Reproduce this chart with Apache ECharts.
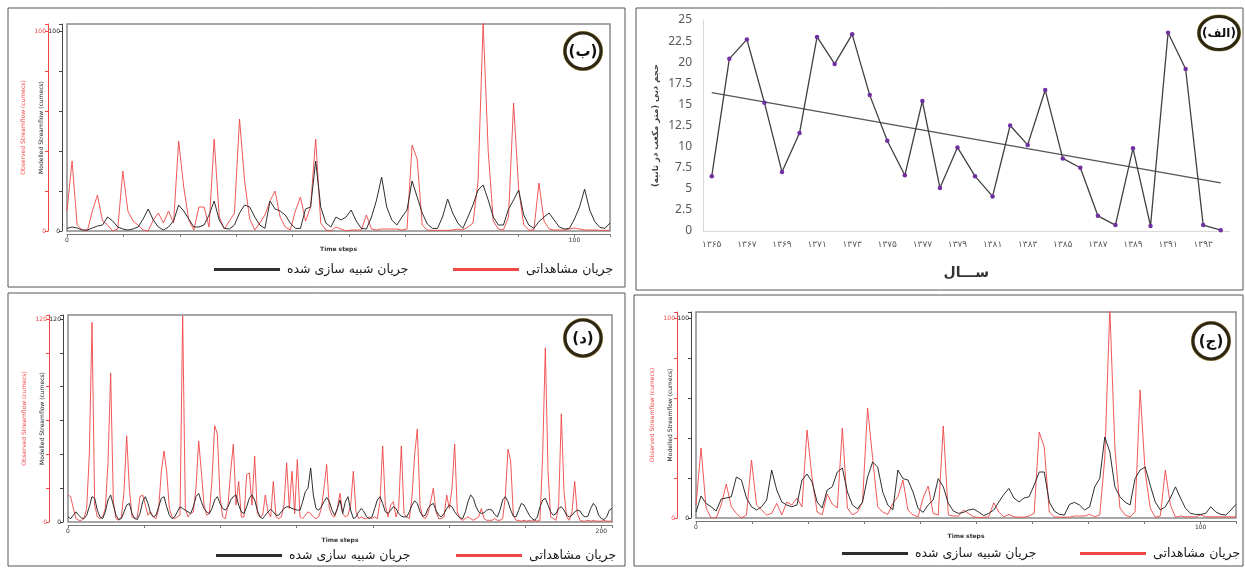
<!DOCTYPE html>
<html>
<head>
<meta charset="utf-8">
<script src="https://cdn.jsdelivr.net/npm/echarts@6/dist/echarts.min.js"></script>
<style>
html, body { margin: 0; padding: 0; background: #fff; }
#main { width: 1245px; height: 568px; }
</style>
</head>
<body>
<div id="main"></div>
<script>
// (الف) annual discharge
var years = ['۱۳۶۵', '۱۳۶۶', '۱۳۶۷', '۱۳۶۸', '۱۳۶۹', '۱۳۷۰', '۱۳۷۱', '۱۳۷۲', '۱۳۷۳', '۱۳۷۴',
  '۱۳۷۵', '۱۳۷۶', '۱۳۷۷', '۱۳۷۸', '۱۳۷۹', '۱۳۸۰', '۱۳۸۱', '۱۳۸۲', '۱۳۸۳', '۱۳۸۴',
  '۱۳۸۵', '۱۳۸۶', '۱۳۸۷', '۱۳۸۸', '۱۳۸۹', '۱۳۹۰', '۱۳۹۱', '۱۳۹۲', '۱۳۹۳', '۱۳۹۴'];
var annualFlow = [6.5, 20.4, 22.7, 15.2, 7.0, 11.6, 23.0, 19.8, 23.3, 16.1,
  10.7, 6.6, 15.4, 5.1, 9.9, 6.5, 4.1, 12.5, 10.2, 16.7,
  8.6, 7.5, 1.8, 0.7, 9.8, 0.6, 23.5, 19.2, 0.7, 0.1];
var trendEnds = [16.4, 5.7];

// (ب) observed / modelled
var obsB = [10, 35, 3, 0.5, 0, 10, 18, 5, 3, 0,
  1, 30, 10, 5, 3, 0.5, 0, 5.5, 9, 4,
  10, 4, 45, 22, 5.5, 0.5, 12, 12, 2, 46,
  7, 1, 5, 9, 56, 25, 6, 0.5, 4, 8,
  15, 20, 7, 2, 0.5, 10, 17, 5, 12, 46,
  4, 0.5, 0, 2, 1, 0, 0.5, 0.5, 0.5, 8,
  1, 0.5, 1, 1, 1, 1, 0.5, 1, 43, 36,
  3, 0.5, 0.3, 0.3, 0.3, 0.3, 0.5, 1, 0.5, 2,
  4, 25, 104, 40, 5, 1, 0.5, 7, 64, 21,
  3, 0.5, 0.5, 24, 5, 1, 0.5, 0.5, 0.5, 1,
  1.5, 1, 0.5, 0.5, 0.5, 0.3, 0.3, 0.3];
var simB = [1.3, 2, 1.5, 0.5, 0.5, 1.5, 2.5, 3, 7, 5,
  2, 1, 0.5, 1, 2, 6, 11, 5.5, 2, 0.5,
  2, 5, 13, 10, 6, 2, 2, 3, 8, 15,
  5.5, 1.3, 1, 3, 9, 13, 12, 7, 3, 1.3,
  15, 11, 10, 8, 4, 1.3, 1.3, 11, 12, 35,
  12, 4, 2, 7, 5.5, 7, 10.5, 5, 1.3, 1,
  7, 15.5, 27, 12, 5.5, 3, 7, 10.5, 25, 17,
  9, 3.5, 1.3, 1.3, 7, 16, 9, 4, 1.3, 7,
  13, 20.5, 23, 15.5, 7, 3, 3, 11, 15.5, 20.5,
  8, 3, 1.3, 4.7, 7, 9, 5.5, 2, 1, 1.3,
  6, 12, 21, 10.5, 4.7, 1.8, 1.3, 4];

// (ج) observed / modelled
var obsJ = [6.5, 35, 5, 0, 0, 6.5, 17, 5.6, 2.3, 0,
  1.5, 29, 6.5, 4, 1.5, 2.3, 7.3, 1.5, 8, 6.5,
  10, 5.6, 44, 20, 3, 1.5, 12, 7, 5, 45,
  5, 1.5, 3, 8, 55, 30, 5.6, 3, 1.8, 7.3,
  10.6, 19, 4, 1.5, 0.6, 10, 16, 2.3, 1.5, 46,
  1.5, 1, 1, 4, 2.3, 0.6, 0.3, 0.3, 0.6, 7.6,
  3, 0.6, 1.8, 0.6, 0.4, 0.4, 1, 2.3, 43, 35.5,
  3, 0.6, 0.4, 0.4, 0.4, 1, 1, 1, 1.8, 0.6,
  1.5, 30, 105, 35, 5, 1.5, 0.6, 3, 64, 23,
  5, 0.4, 1, 24, 6.5, 0.4, 1, 0.6, 0.6, 0.6,
  1.5, 0.6, 0.6, 0.6, 0.6, 0.6, 0.6, 0.6];
var simJ = [3, 11, 7.3, 5.6, 3.5, 9.5, 10, 10.6, 20.5, 19,
  10, 5.6, 4, 5.6, 9, 24, 14, 8, 6.5, 5.6,
  6.5, 19, 22, 18, 8, 5, 14, 15.6, 23, 25,
  13, 6.5, 4.5, 8, 20.5, 28, 25.5, 13, 6.5, 4,
  24, 19.7, 19, 13, 4.8, 2.8, 6.5, 9, 19.7, 15.6,
  7.3, 3.5, 2.3, 2.8, 4, 4.5, 3, 1.2, 2.3, 4,
  8, 11.8, 14.8, 10, 8, 10, 10.6, 16.4, 23, 23,
  8, 3.5, 1.8, 1.5, 6.8, 7.8, 6.5, 4, 5.6, 15.6,
  19.7, 40.5, 33, 15.6, 10.6, 8, 6.5, 19.7, 24, 25.5,
  16.4, 8, 4, 5.6, 10, 15.6, 10, 4.8, 2.3, 1.8,
  1.8, 2.3, 5.6, 3, 1.8, 1.5, 4, 6.8];

// (د) observed / modelled
var obsD = [16, 15, 8, 2, 1, 1, 2, 8, 40, 118,
  10, 3, 2, 3, 8, 35, 88, 12, 2, 1,
  3, 18, 51, 20, 3, 2, 3, 15, 16, 10,
  4, 6, 3, 2, 8, 30, 42, 30, 8, 3,
  2, 3, 4, 122, 8, 3, 5, 6, 20, 48,
  30, 10, 4, 5, 25, 57, 52, 15, 3, 2,
  10, 30, 46, 10, 24, 3, 3, 28, 29, 10,
  39, 5, 3, 4, 16, 6, 3, 24, 3, 2,
  3, 10, 35, 8, 30, 5, 37, 3, 2, 4,
  6, 5, 3, 2, 3, 8, 20, 34, 8, 4,
  3, 8, 17, 5, 3, 4, 10, 30, 6, 2,
  3, 2, 2, 3, 2, 3, 2, 12, 45, 10,
  3, 10, 12, 3, 8, 45, 5, 3, 2, 15,
  40, 55, 10, 3, 2, 5, 12, 20, 6, 2,
  2, 3, 16, 8, 20, 46, 6, 2, 1, 2,
  3, 2, 1, 2, 3, 8, 2, 1, 1, 1,
  2, 1, 1, 2, 15, 43, 36, 4, 1, 1,
  0.5, 1, 0.5, 1, 0.5, 1, 0.5, 1, 40, 103,
  30, 3, 2, 1, 10, 64, 18, 3, 1, 6,
  24, 5, 1, 0.5, 0.5, 1, 0.5, 1, 0.5, 0.5,
  0.5, 1, 0.5, 0.5, 0.5];
var simD = [3, 2, 4, 6, 4, 2.5, 2, 4, 9, 15,
  14, 7, 3, 2, 6, 13, 16, 10, 4, 1.5,
  2, 6, 10, 11, 5, 2, 1.5, 5, 12, 15,
  11, 5, 3, 4, 9, 14, 15, 9, 4, 2,
  3, 6, 9, 8, 7, 6, 5, 9, 15, 17,
  12, 8, 6, 5, 8, 13, 15, 11, 8, 7,
  9, 13, 15, 16, 10, 6, 5, 9, 14, 16,
  13, 7, 3, 2, 4, 6, 7.5, 6, 4, 4,
  6, 8, 9, 9, 8, 7.5, 7, 7, 12, 18,
  20, 32, 16, 8, 7, 9, 12, 14.5, 12, 7,
  4, 8, 13, 5, 12, 15, 7, 2, 3, 6,
  8, 6, 3, 2, 3, 8, 13, 15, 11, 6,
  5, 7, 9, 8, 5, 3.5, 3, 3, 6, 10,
  12.5, 11, 6, 3.5, 4, 8, 10, 11, 7, 4,
  3, 5, 8, 10, 9, 6, 4, 2.5, 2, 6,
  12, 16, 14, 9, 6, 5, 5.5, 7, 7.5, 7,
  4.5, 3, 7, 13, 15, 12, 7, 3.5, 3, 7,
  11, 10, 7, 4, 2, 1, 3, 9, 13, 14,
  10, 6, 4, 5, 8, 9, 7, 4, 3, 4,
  6, 7, 6.5, 4, 3, 3.5, 8, 11, 9, 4,
  2, 1.5, 3, 7, 8];

var OBS_NAME = 'جریان مشاهداتی';
var SIM_NAME = 'جریان شبیه سازی شده';
var RED = '#f04646';
var DARK = '#2e2e2e';
var FA = 'DejaVu Sans';

var chart = echarts.init(document.getElementById('main'));

function pairs(arr) {
  return arr.map(function (v, i) { return [i, v]; });
}

function near(v, t) { return Math.abs(v - t) < 0.01; }

// x axis of a streamflow panel
function timeAxis(gi, maxX, step, lastLabel) {
  return {
    gridIndex: gi, type: 'value', min: 0, max: maxX, interval: step, offset: 3,
    name: 'Time steps', nameLocation: 'middle', nameGap: 12,
    nameTextStyle: { fontSize: 6, color: '#333', fontWeight: 'bold' },
    axisLine: { onZero: false, lineStyle: { color: '#777', width: 1 } },
    axisTick: { length: 3, lineStyle: { color: '#777' } },
    axisLabel: {
      fontSize: 6, color: '#333', margin: 3,
      formatter: function (v) {
        if (near(v, 0)) return '0';
        if (near(v, lastLabel)) return String(lastLabel);
        return '';
      }
    },
    splitLine: { show: false }
  };
}

// two left value axes: observed (red) and modelled (black)
function flowAxes(gi, maxY, topLabel) {
  var lab = function (v) { return (near(v, 0) || near(v, topLabel)) ? String(Math.round(v)) : ''; };
  return [
    {
      gridIndex: gi, type: 'value', position: 'left', offset: 19, min: 0, max: maxY, interval: 20,
      name: 'Observed Streamflow (cumecs)', nameLocation: 'middle', nameGap: 22,
      nameTextStyle: { color: RED, fontSize: 6 },
      axisLine: { show: true, onZero: false, lineStyle: { color: RED, width: 1 } },
      axisTick: { show: true, length: 3, lineStyle: { color: RED } },
      axisLabel: { color: RED, fontSize: 6, margin: 2, formatter: lab },
      splitLine: { show: false }
    },
    {
      gridIndex: gi, type: 'value', position: 'left', offset: 5, min: 0, max: maxY, interval: 20,
      name: 'Modelled Streamflow (cumecs)', nameLocation: 'middle', nameGap: 17,
      nameTextStyle: { color: '#222', fontSize: 6 },
      axisLine: { show: true, onZero: false, lineStyle: { color: '#444', width: 1 } },
      axisTick: { show: true, length: 3, lineStyle: { color: '#444' } },
      axisLabel: { color: '#222', fontSize: 6, margin: 2, formatter: lab },
      splitLine: { show: false }
    }
  ];
}

function flowSeries(xi, yRed, yBlack, obs, sim) {
  return [
    {
      name: OBS_NAME, type: 'line', xAxisIndex: xi, yAxisIndex: yRed, data: pairs(obs),
      showSymbol: false, symbol: 'none', color: RED,
      lineStyle: { color: RED, width: 1, opacity: 0.9 }
    },
    {
      name: SIM_NAME, type: 'line', xAxisIndex: xi, yAxisIndex: yBlack, data: pairs(sim),
      showSymbol: false, symbol: 'none', color: DARK,
      lineStyle: { color: DARK, width: 1 }
    }
  ];
}

function legendItem(name, left, top) {
  return {
    data: [name], left: left, top: top, padding: 0, icon: 'rect',
    itemWidth: 66, itemHeight: 3, itemGap: 0, selectedMode: false,
    textStyle: { fontFamily: FA, fontSize: 12.5, color: '#1a1a1a', padding: [0, 0, 0, 2] }
  };
}

function badge(cx, cy, rx, ry, label, fs) {
  return [
    { type: 'ellipse', shape: { cx: cx, cy: cy, rx: rx + 1.5, ry: ry + 1.5 }, style: { fill: 'none', stroke: '#b9a25e', lineWidth: 1.2 } },
    { type: 'ellipse', shape: { cx: cx, cy: cy, rx: rx, ry: ry }, style: { fill: '#fff', stroke: '#2c2612', lineWidth: 3.2 } },
    { type: 'text', x: cx, y: cy + 1, style: { text: label, align: 'center', verticalAlign: 'middle', font: 'bold ' + fs + 'px "DejaVu Sans"', fill: '#111' } }
  ];
}

function box(x, y, w, h) {
  return { type: 'rect', shape: { x: x, y: y, width: w, height: h }, style: { fill: 'none', stroke: '#555', lineWidth: 1 } };
}

var gridStyle = { show: true, borderColor: '#8a8a8a', borderWidth: 1.5, backgroundColor: 'transparent' };

var yB = flowAxes(0, 103.5, 100);
var yD = flowAxes(2, 122.4, 120);
var yJ = flowAxes(3, 103, 100);

var annualY = {
  gridIndex: 1, type: 'value', min: 0, max: 25, interval: 2.5,
  name: 'حجم دبی (متر مکعب در ثانیه)\u200F', nameLocation: 'middle', nameGap: 43,
  nameTextStyle: { fontFamily: FA, fontSize: 8.5, fontWeight: 'bold', color: '#444' },
  axisLine: { show: true, onZero: false, lineStyle: { color: '#d9d9d9' } },
  axisTick: { show: false },
  axisLabel: { fontFamily: 'Noto Sans', fontSize: 12, color: '#595959', margin: 11 },
  splitLine: { show: false }
};

var option = {
  animation: false,
  backgroundColor: '#fff',
  textStyle: { fontFamily: FA },
  grid: [
    Object.assign({ left: 67, top: 24, width: 543, height: 207 }, gridStyle),
    { left: 703, top: 20, width: 526.5, height: 211, show: false },
    Object.assign({ left: 68, top: 315, width: 544, height: 207 }, gridStyle),
    Object.assign({ left: 696, top: 312, width: 540, height: 206 }, gridStyle)
  ],
  xAxis: [
    timeAxis(0, 107, 100 / 9, 100),
    {
      gridIndex: 1, type: 'category', data: years, boundaryGap: true,
      name: 'ســـال', nameLocation: 'middle', nameGap: 35,
      nameTextStyle: { fontFamily: FA, fontSize: 14, fontWeight: 'bold', color: '#333' },
      axisLine: { lineStyle: { color: '#d9d9d9' } },
      axisTick: { show: false },
      axisLabel: { interval: 1, fontFamily: FA, fontSize: 9, color: '#595959', margin: 9 }
    },
    timeAxis(2, 204, 200 / 7, 200),
    timeAxis(3, 107, 100 / 9, 100)
  ],
  yAxis: [yB[0], yB[1], annualY, yD[0], yD[1], yJ[0], yJ[1]],
  legend: [
    legendItem(SIM_NAME, 214, 263),
    legendItem(OBS_NAME, 453, 263),
    legendItem(SIM_NAME, 216, 549),
    legendItem(OBS_NAME, 456, 549),
    legendItem(SIM_NAME, 842, 547),
    legendItem(OBS_NAME, 1080, 547)
  ],
  series: [].concat(
    flowSeries(0, 0, 1, obsB, simB),
    [
      {
        name: 'annual', type: 'line', xAxisIndex: 1, yAxisIndex: 2, data: annualFlow,
        symbol: 'circle', symbolSize: 4.5, color: '#7030a0',
        itemStyle: { color: '#7030a0' },
        lineStyle: { color: '#404040', width: 1.3 }, z: 3
      },
      {
        name: 'trend', type: 'line', xAxisIndex: 1, yAxisIndex: 2,
        data: [[years[0], trendEnds[0]], [years[years.length - 1], trendEnds[1]]],
        symbol: 'none', lineStyle: { color: '#555', width: 1.4 }, z: 2
      }
    ],
    flowSeries(2, 3, 4, obsD, simD),
    flowSeries(3, 5, 6, obsJ, simJ)
  ),
  graphic: [].concat(
    [box(8, 8, 617, 279), box(636, 8, 607, 282), box(8, 293, 617, 273), box(634, 295, 609, 271)],
    badge(583, 51, 18, 18, '(ب)', 15),
    badge(1219, 33, 20, 16.5, '(الف)', 12),
    badge(583, 338, 18, 18, '(د)', 15),
    badge(1211, 341, 18, 18, '(ج)', 15)
  )
};

chart.setOption(option);
</script>
</body>
</html>
